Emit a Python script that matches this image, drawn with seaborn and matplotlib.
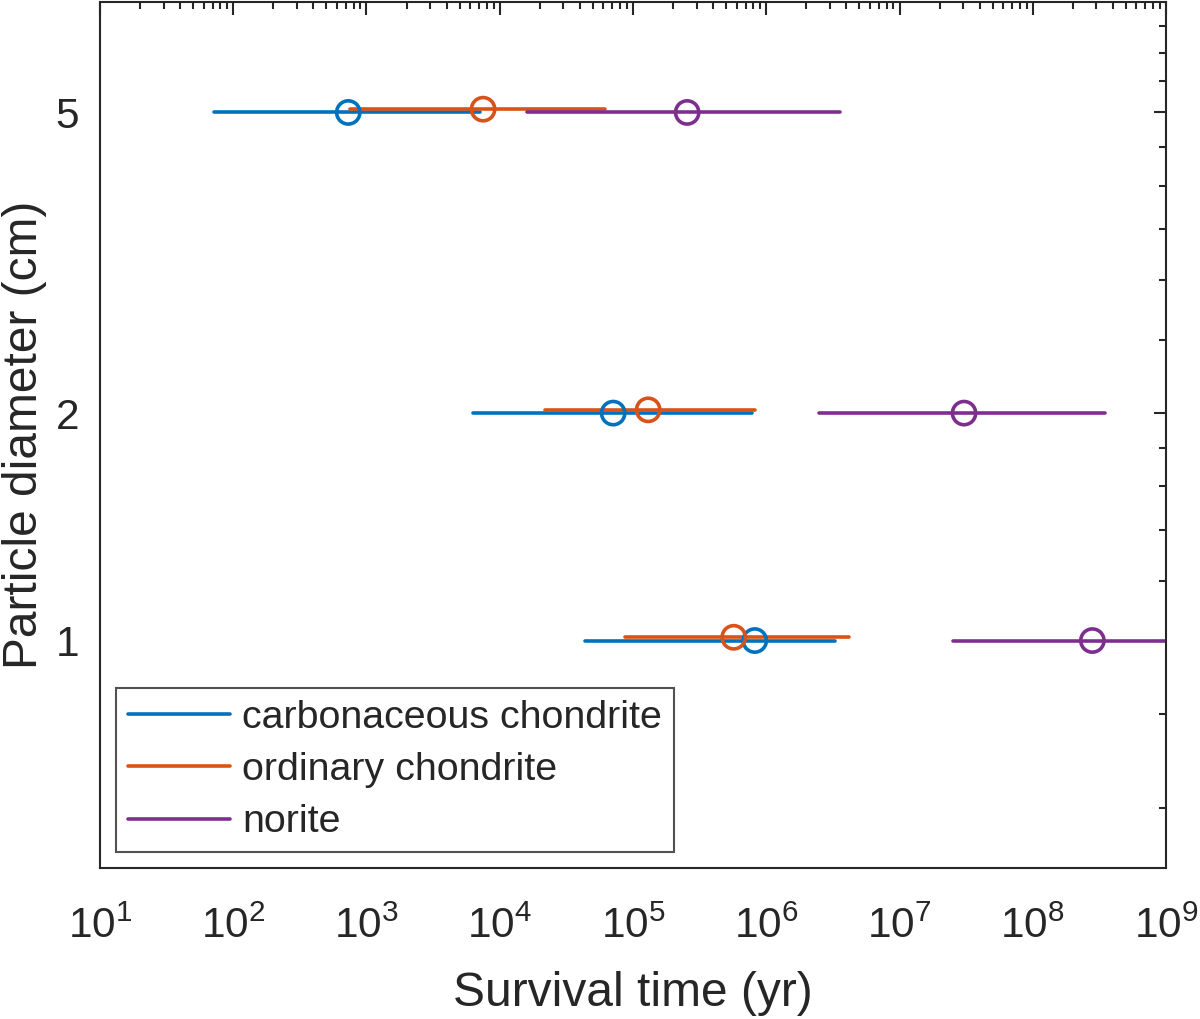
import numpy as np
import pandas as pd
import matplotlib
matplotlib.use("Agg")
import matplotlib.pyplot as plt
import matplotlib.ticker as mticker
from matplotlib.lines import Line2D
import seaborn as sns

# particle diameters (cm)
diameters = [1, 2, 5]

# survival times (yr): best estimate and lower / upper bounds
carb_center = [8.2e5, 7.1e4, 7.3e2]
carb_low = [4.4e4, 6.3e3, 72]
carb_high = [3.3e6, 7.8e5, 7.1e3]

ord_center = [5.7e5, 1.3e5, 7.5e3]
ord_low = [8.7e4, 2.2e4, 7.5e2]
ord_high = [4.2e6, 8.2e5, 6.2e4]

nor_center = [2.8e8, 3.05e7, 2.55e5]
nor_low = [2.5e7, 2.5e6, 1.6e4]
nor_high = [3.1e9, 3.5e8, 3.6e6]

materials = ["carbonaceous chondrite", "ordinary chondrite", "norite"]
colors = ["#0072BD", "#D95319", "#7E2F8E"]
# small vertical shift so overlapping bars stay visible
y_shift = [1.0, 1.01, 1.0]

y_major = [1, 2, 5]
y_minor = [0.6, 0.8, 1.2, 1.4, 1.6, 1.8, 2.5, 3, 3.5, 4, 4.5, 5.5, 6, 6.5]

sns.set_theme(style="white")
plt.rcParams['font.family'] = ['Liberation Sans', 'DejaVu Sans']
plt.rcParams['mathtext.fontset'] = 'custom'
plt.rcParams['mathtext.rm'] = 'Liberation Sans'
plt.rcParams['mathtext.it'] = 'Liberation Sans:italic'
plt.rcParams['mathtext.bf'] = 'Liberation Sans:bold'

axis_col = "#262626"

fig = plt.figure(figsize=(12, 10.19), dpi=100)
ax = fig.add_axes([0.0833, 0.1482, 0.8884, 0.8498])

centers = [carb_center, ord_center, nor_center]
lows = [carb_low, ord_low, nor_low]
highs = [carb_high, ord_high, nor_high]

for i, name in enumerate(materials):
    ys = [d * y_shift[i] for d in diameters]
    rows = []
    for j, y in enumerate(ys):
        rows.append({"time": lows[i][j], "diam": y, "seg": j})
        rows.append({"time": highs[i][j], "diam": y, "seg": j})
    seg_df = pd.DataFrame(rows)
    sns.lineplot(data=seg_df, x="time", y="diam", units="seg", estimator=None,
                 sort=False, color=colors[i], lw=2.6, ax=ax, legend=False)
    pt_df = pd.DataFrame({"time": centers[i], "diam": ys})
    sns.scatterplot(data=pt_df, x="time", y="diam", ax=ax, marker="o", s=280,
                    color=colors[i], facecolor="none", edgecolor=colors[i],
                    linewidth=2.6, zorder=3, legend=False)

ax.set_xscale("log")
ax.set_yscale("log")
ax.set_xlim(1e1, 1e9)
ax.set_ylim(0.5, 7)

ax.xaxis.set_major_locator(mticker.LogLocator(base=10, numticks=20))
ax.xaxis.set_minor_locator(mticker.LogLocator(base=10, subs=np.arange(2, 10), numticks=20))
ax.xaxis.set_minor_formatter(mticker.NullFormatter())

ax.yaxis.set_major_locator(mticker.FixedLocator(y_major))
ax.yaxis.set_major_formatter(mticker.FixedFormatter([str(v) for v in y_major]))
ax.yaxis.set_minor_locator(mticker.FixedLocator(y_minor))
ax.yaxis.set_minor_formatter(mticker.NullFormatter())

for s in ax.spines.values():
    s.set_color(axis_col)
    s.set_linewidth(1.5)

ax.tick_params(which="both", direction="in", top=True, right=True,
               color=axis_col, width=1.5)
ax.tick_params(which="major", length=9, labelsize=30.5, labelcolor=axis_col)
ax.tick_params(axis="x", which="major", pad=28)
ax.tick_params(axis="y", which="major", pad=15)
ax.tick_params(which="minor", length=5)

ax.set_xlabel("Survival time (yr)", fontsize=34.5, color=axis_col, labelpad=17)
ax.set_ylabel("Particle diameter (cm)", fontsize=34.5, color=axis_col)
ax.yaxis.set_label_coords(-0.05, 0.5)

handles = [Line2D([0], [0], color=c, lw=2.6) for c in colors]
leg = ax.legend(handles, materials, loc="lower left", fontsize=28.4,
                frameon=True, fancybox=False, handlelength=2.6,
                handletextpad=0.3, labelspacing=0.41, borderpad=0.3,
                borderaxespad=0.4, bbox_to_anchor=(0.0, 0.0))
leg.get_frame().set_edgecolor(axis_col)
leg.get_frame().set_linewidth(1.5)

fig.savefig("out.png", dpi=100, facecolor="white")
